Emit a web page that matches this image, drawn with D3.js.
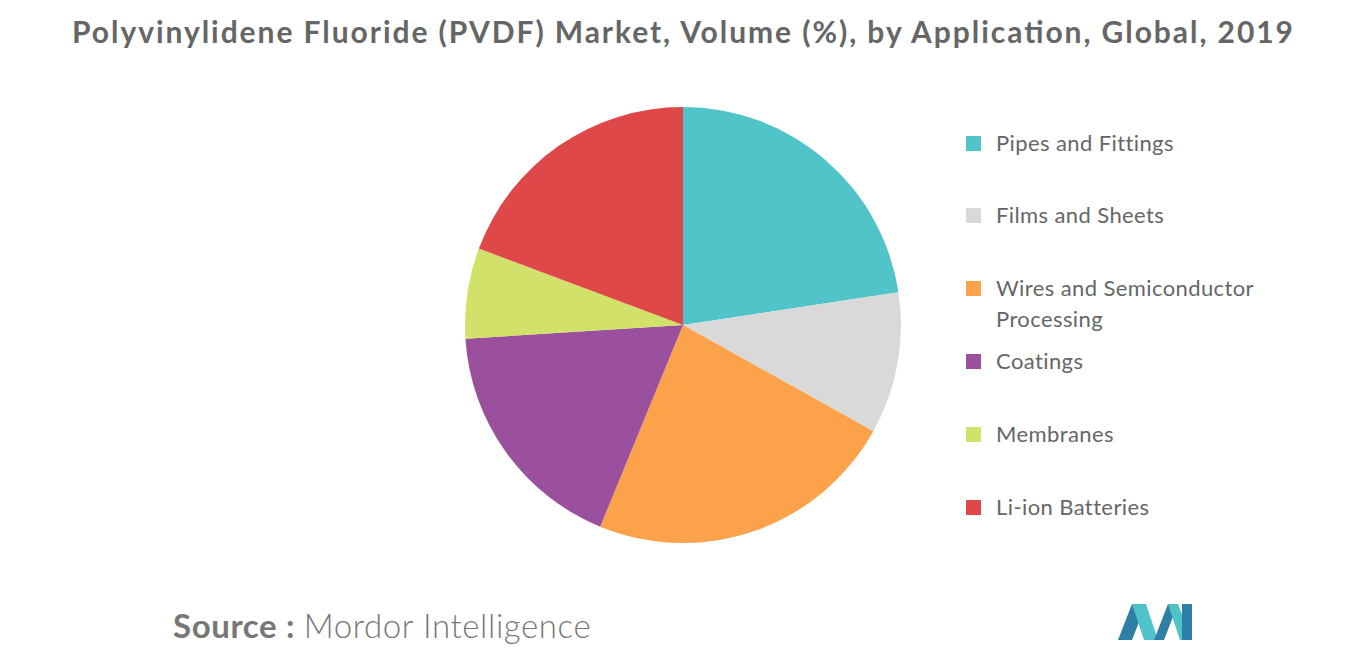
<!DOCTYPE html>
<html><head><meta charset="utf-8">
<script src="https://cdn.jsdelivr.net/npm/d3@7"></script>
<style>body{margin:0;background:#fff;font-family:Lato,"Open Sans",sans-serif}</style>
</head><body><svg id="c" width="1366" height="655"></svg>
<script>
const categories=["Pipes and Fittings","Films and Sheets","Wires and Semiconductor Processing","Coatings","Membranes","Li-ion Batteries"];
const values=[22.6,10.5,23.1,17.8,6.7,19.3];
const colors=["#51C4CA","#D9D9D9","#FBA24B","#9B509E","#D2E169","#DE4848"];
const legendLines=[["Pipes and Fittings"],["Films and Sheets"],["Wires and Semiconductor","Processing"],["Coatings"],["Membranes"],["Li-ion Batteries"]];
const legendY=[144,216,289,362,435,508];
const svg=d3.select("#c");
svg.append("text").attr("x",72).attr("y",43).attr("font-size",30).attr("font-weight",700).attr("fill","#666").attr("textLength",1221).attr("lengthAdjust","spacing").text("Polyvinylidene Fluoride (PVDF) Market, Volume (%), by Application, Global, 2019");
const pie=d3.pie().sort(null)(values);
const arc=d3.arc().innerRadius(0).outerRadius(218);
svg.append("g").attr("transform","translate(683,325)").selectAll("path").data(pie).join("path").attr("d",arc).attr("fill",(d,i)=>colors[i]);
const lg=svg.append("g");
categories.forEach((c,i)=>{
  lg.append("rect").attr("x",966).attr("y",legendY[i]-8).attr("width",15).attr("height",15).attr("fill",colors[i]);
  const t=lg.append("text").attr("x",996).attr("y",legendY[i]+7).attr("font-size",22).attr("letter-spacing",0.4).attr("fill","#666");
  legendLines[i].forEach((l,j)=>t.append("tspan").attr("x",996).attr("dy",j?31:0).text(l));
});
const s=svg.append("text").attr("x",173).attr("y",638).attr("font-size",33).attr("letter-spacing",0.6).attr("fill","#777");
s.append("tspan").attr("font-weight",700).text("Source : ");
s.append("tspan").attr("font-weight",300).text("Mordor Intelligence");
const lgo=svg.append("g").attr("transform","translate(1118,604)");
lgo.append("path").attr("d","M0,36 L14,0 L28,0 L14,36Z").attr("fill","#2E7FA6");
lgo.append("path").attr("d","M14,0 L28,0 L40,36 L26,36Z").attr("fill","#4FC3C9");
lgo.append("path").attr("d","M36,36 L50,0 L60,0 L46,36Z").attr("fill","#2E7FA6");
lgo.append("path").attr("d","M50,0 L60,0 L74,36 L62,36Z").attr("fill","#4FC3C9");
lgo.append("rect").attr("x",64).attr("y",0).attr("width",10).attr("height",36).attr("fill","#2E7FA6");
</script></body></html>
